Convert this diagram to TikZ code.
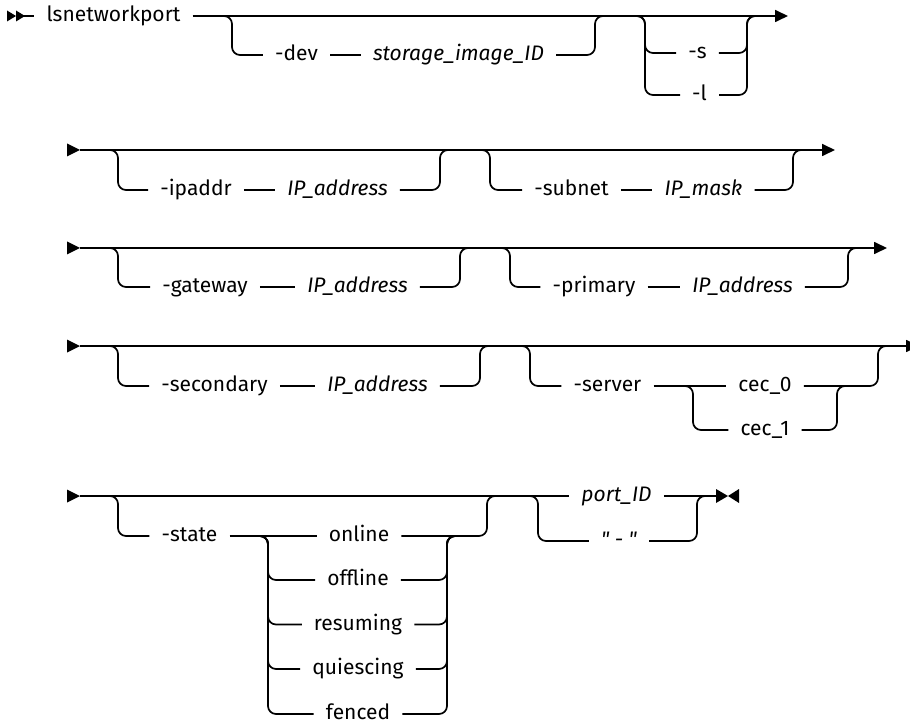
\documentclass[tikz,border=0pt]{standalone}
\usepackage{fontspec}
\newfontfamily\railfam{Fira Sans}
\usepackage{tikz}
\usetikzlibrary{arrows.meta,positioning}
\newcommand\railfont{\railfam\fontsize{21}{25}\selectfont}

\begin{document}
\begin{tikzpicture}[
  x=1pt,y=-1pt,
  rail/.style={line width=1.7pt,rounded corners=8pt},
  railend/.style={rail,-{Triangle[length=13pt,width=12pt]}},
  kw/.style={font=\railfont,inner xsep=12pt,inner ysep=2pt,anchor=mid},
  var/.style={kw,font=\railfont\itshape}
]
  \railfont
  \useasboundingbox (0,0) rectangle (910,727);

  \fill (7,10.5) -- (16,16) -- (7,21.5) -- cycle;
  \fill (16,10.5) -- (25,16) -- (16,21.5) -- cycle;
  \coordinate (go1) at (24,16);
  \coordinate (end1) at (788,16);
  \node[kw] (cmd) at (113.5,16) {lsnetworkport};
  \draw[rail] (go1) -- (cmd.mid west);
  \draw[railend] (cmd.mid east) -- (end1);

  \coordinate (devin) at (220,16);
  \coordinate (devout) at (607,16);
  \node[kw] (dev) at (296.5,55) {-dev};
  \node[var] (devid) at (458.5,55) {storage\_image\_ID};
  \draw[rail] (devin) -- ++(12,0) |- (dev.mid west);
  \draw[rail] (dev.mid east) -- (devid.mid west);
  \draw[rail] (devid.mid east) -| ([xshift=-12pt]devout) -- (devout);

  \coordinate (sin) at (636,16);
  \coordinate (sout) at (757,16);
  \node[kw] (optS) at (697.5,53) {-s};
  \node[kw] (optL) at (699.5,95) {-l};
  \draw[rail] (sin) -- ++(9,0) |- (optS.mid west);
  \draw[rail] (sin) -- ++(9,0) |- (optL.mid west);
  \draw[rail] (optS.mid east) -| ([xshift=-10pt]sout) -- (sout);
  \draw[rail] (optL.mid east) -| ([xshift=-10pt]sout) -- (sout);

  \fill (67,143.5) -- (80,150) -- (67,156.5) -- cycle;
  \coordinate (go2) at (80,150);
  \coordinate (end2) at (835,150);
  \draw[railend] (go2) -- (end2);

  \coordinate (ipin) at (108,150);
  \coordinate (ipout) at (450,150);
  \node[kw] (ipaddr) at (196,190) {-ipaddr};
  \node[var] (ipA) at (337.5,190) {IP\_address};
  \draw[rail] (ipin) -- ++(10,0) |- (ipaddr.mid west);
  \draw[rail] (ipaddr.mid east) -- (ipA.mid west);
  \draw[rail] (ipA.mid east) -| ([xshift=-10pt]ipout) -- (ipout);

  \coordinate (subin) at (481,150);
  \coordinate (subout) at (803,150);
  \node[kw] (subnet) at (571.5,190) {-subnet};
  \node[var] (mask) at (703.5,190) {IP\_mask};
  \draw[rail] (subin) -- ++(9,0) |- (subnet.mid west);
  \draw[rail] (subnet.mid east) -- (mask.mid west);
  \draw[rail] (mask.mid east) -| ([xshift=-10pt]subout) -- (subout);

  \fill (67,241.5) -- (80,248) -- (67,254.5) -- cycle;
  \coordinate (go3) at (80,248);
  \coordinate (end3) at (887,248);
  \draw[railend] (go3) -- (end3);

  \coordinate (gwin) at (108,248);
  \coordinate (gwout) at (470,248);
  \node[kw] (gateway) at (205,287) {-gateway};
  \node[var] (gwA) at (357.5,287) {IP\_address};
  \draw[rail] (gwin) -- ++(10,0) |- (gateway.mid west);
  \draw[rail] (gateway.mid east) -- (gwA.mid west);
  \draw[rail] (gwA.mid east) -| ([xshift=-10pt]gwout) -- (gwout);

  \coordinate (prin) at (501,248);
  \coordinate (prout) at (857,248);
  \node[kw] (primary) at (594,287) {-primary};
  \node[var] (prA) at (742.5,287) {IP\_address};
  \draw[rail] (prin) -- ++(9,0) |- (primary.mid west);
  \draw[rail] (primary.mid east) -- (prA.mid west);
  \draw[rail] (prA.mid east) -| ([xshift=-9pt]prout) -- (prout);

  \fill (67,339.5) -- (80,346) -- (67,352.5) -- cycle;
  \coordinate (go4) at (80,346);
  \coordinate (end4) at (919,346);
  \draw[railend] (go4) -- (end4);

  \coordinate (secin) at (108,346);
  \coordinate (secout) at (490,346);
  \node[kw] (secondary) at (214.5,386) {-secondary};
  \node[var] (secA) at (377.5,386) {IP\_address};
  \draw[rail] (secin) -- ++(10,0) |- (secondary.mid west);
  \draw[rail] (secondary.mid east) -- (secA.mid west);
  \draw[rail] (secA.mid east) -| ([xshift=-10pt]secout) -- (secout);

  \coordinate (srvin) at (521,346);
  \coordinate (srvout) at (888,346);
  \node[kw] (server) at (607.5,386) {-server};
  \node[kw] (cec0) at (765,386) {cec\_0};
  \node[kw] (cec1) at (765,430) {cec\_1};
  \coordinate (cecin) at (683,386);
  \coordinate (cecout) at (847,386);
  \draw[rail] (srvin) -- ++(9,0) |- (server.mid west);
  \draw[rail] (server.mid east) -- (cec0.mid west);
  \draw[rail] (cecin) -- ++(10,0) |- (cec1.mid west);
  \draw[rail] (cec1.mid east) -| ([xshift=-10pt]cecout) -- (cecout);
  \draw[rail] (cec0.mid east) -| ([xshift=-10pt]srvout) -- (srvout);

  \fill (67,489.5) -- (80,496) -- (67,502.5) -- cycle;
  \coordinate (go5) at (80,496);
  \node[var] (portID) at (616.5,496) {port\_ID};
  \draw[rail] (go5) -- (portID.mid west);

  \coordinate (stin) at (108,496);
  \coordinate (stout) at (497,496);
  \node[kw] (state) at (189.5,536) {-state};
  \node[kw] (online) at (359,536) {online};
  \node[kw] (offline) at (358,580) {offline};
  \node[kw] (resuming) at (358,624.5) {resuming};
  \node[kw] (quiescing) at (358,669) {quiescing};
  \node[kw] (fenced) at (358,714) {fenced};
  \coordinate (optin) at (258,536);
  \coordinate (optout) at (457,536);
  \draw[rail] (stin) -- ++(10,0) |- (state.mid west);
  \draw[rail] (state.mid east) -- (online.mid west);
  \draw[rail] (online.mid east) -| ([xshift=-10pt]stout) -- (stout);
  \draw[rail] (optin) -- ++(10,0) |- (offline.mid west);
  \draw[rail] (optin) -- ++(10,0) |- (resuming.mid west);
  \draw[rail] (optin) -- ++(10,0) |- (quiescing.mid west);
  \draw[rail] (optin) -- ++(10,0) |- (fenced.mid west);
  \draw[rail] (offline.mid east) -| ([xshift=-10pt]optout) -- (optout);
  \draw[rail] (resuming.mid east) -| ([xshift=-10pt]optout) -- (optout);
  \draw[rail] (quiescing.mid east) -| ([xshift=-10pt]optout) -- (optout);
  \draw[rail] (fenced.mid east) -| ([xshift=-10pt]optout) -- (optout);

  \coordinate (pin) at (528,496);
  \coordinate (pout) at (707,496);
  \coordinate (stop) at (716,496);
  \node[var] (dashq) at (619,541) {" - "};
  \draw[rail] (pin) -- ++(10,0) |- (dashq.mid west);
  \draw[rail] (dashq.mid east) -| ([xshift=-10pt]pout) -- (pout);
  \draw[rail] (portID.mid east) -- (stop);
  \fill (716,489) -- (728,496) -- (716,503) -- cycle;
  \fill (739,489) -- (728,496) -- (739,503) -- cycle;
\end{tikzpicture}
\end{document}
